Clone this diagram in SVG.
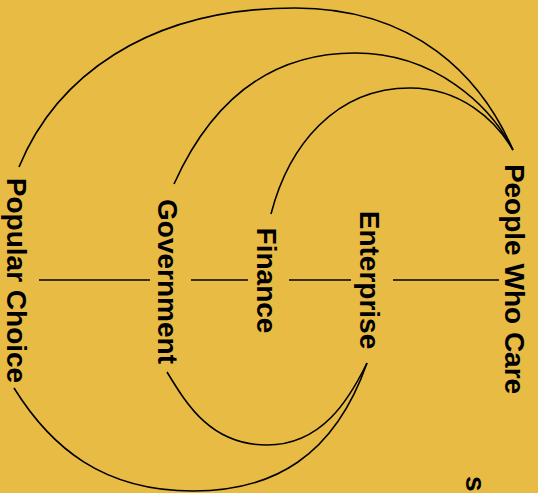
<svg xmlns="http://www.w3.org/2000/svg" width="538" height="493" viewBox="0 0 538 493">
<style>
.bg{fill:#E8BB45}
.lbl{font-family:"Liberation Sans",Arial,sans-serif;font-weight:700;font-size:28px;fill:#000;text-anchor:middle}
.lk{fill:none;stroke:#000;stroke-width:1.6}
</style>
<rect class="bg" x="0" y="0" width="538" height="493"/>
<g id="connectors">
<line class="lk" x1="39" y1="280" x2="150" y2="280"/>
<line class="lk" x1="191" y1="280" x2="248" y2="280"/>
<line class="lk" x1="289" y1="280" x2="351" y2="280"/>
<line class="lk" x1="393" y1="280" x2="499" y2="280"/>
<path class="lk" d="M19,167 C55.2,79.1 145,8 295,8 C415,8 481,76.4 513,150"/>
<path class="lk" d="M174,184 C202.8,120.2 255,53 355,53 C435,53 490.5,105.5 513,150"/>
<path class="lk" d="M271,214 C288.5,146 335,88 410,88 C460,88 495.5,119.5 513,150"/>
<path class="lk" d="M167,372 C187.8,406.4 212,445 267,445 C322,445 349.4,399 367,363"/>
<path class="lk" d="M14,388 C51,447.5 103,491 193,491 C273,491 334,457 367,363"/>
</g>
<g id="popular-choice"><text class="lbl" transform="translate(7,280.5) rotate(90)">Popular Choice</text></g>
<g id="government"><text class="lbl" transform="translate(158,281.5) rotate(90)">Government</text></g>
<g id="finance"><text class="lbl" transform="translate(257,280.5) rotate(90)">Finance</text></g>
<g id="enterprise"><text class="lbl" transform="translate(360,280) rotate(90)">Enterprise</text></g>
<g id="people-who-care"><text class="lbl" transform="translate(505,279) rotate(90)">People Who Care</text></g>
<g id="s-node"><text class="lbl" style="text-anchor:start" transform="translate(466,476) rotate(90)">s</text></g>
</svg>
